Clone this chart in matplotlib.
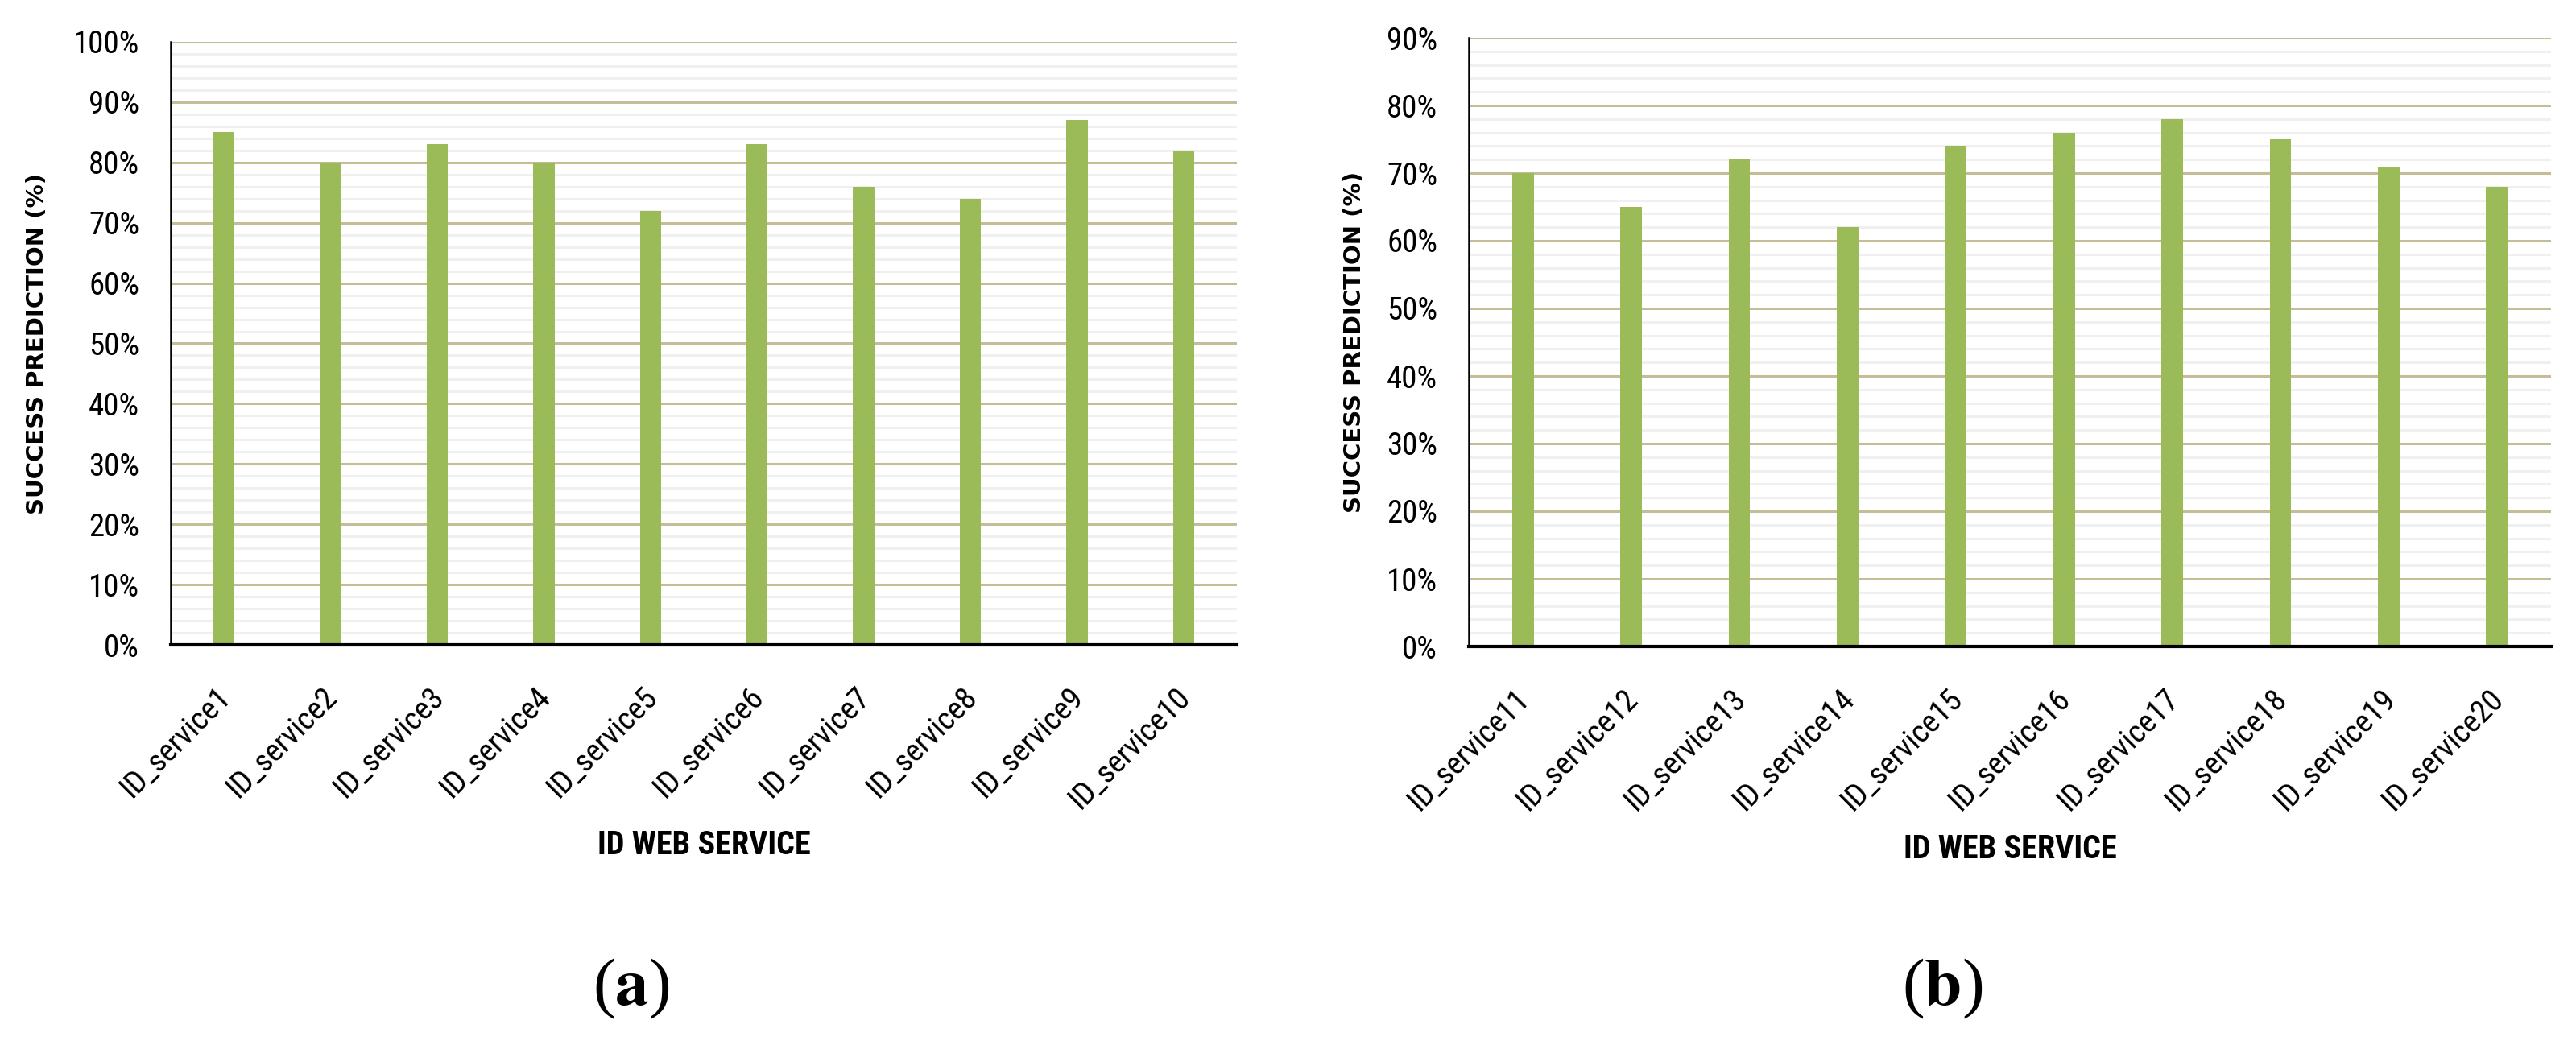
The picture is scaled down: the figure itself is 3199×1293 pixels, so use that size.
import numpy as np
import matplotlib
matplotlib.use('Agg')
import matplotlib.pyplot as plt
import matplotlib.transforms as mtransforms
from matplotlib import font_manager
from matplotlib.ticker import MultipleLocator, PercentFormatter

# data
services_a = ['ID_service1', 'ID_service2', 'ID_service3', 'ID_service4', 'ID_service5',
              'ID_service6', 'ID_service7', 'ID_service8', 'ID_service9', 'ID_service10']
success_a = [0.85, 0.80, 0.83, 0.80, 0.72, 0.83, 0.76, 0.74, 0.87, 0.82]

services_b = ['ID_service11', 'ID_service12', 'ID_service13', 'ID_service14', 'ID_service15',
              'ID_service16', 'ID_service17', 'ID_service18', 'ID_service19', 'ID_service20']
success_b = [0.70, 0.65, 0.72, 0.62, 0.74, 0.76, 0.78, 0.75, 0.71, 0.68]

BAR_COLOR = '#9bbb59'
MAJOR_GRID = '#c4bd97'
MINOR_GRID = '#f0f0f0'

# pick a condensed face if one is installed
installed = {f.name for f in font_manager.fontManager.ttflist}
NARROW = []
for name in ['Liberation Sans Narrow', 'DejaVu Sans Condensed', 'Roboto Condensed',
             'Open Sans Condensed', 'Noto Sans Display']:
    if name in installed:
        NARROW.append(name)
NARROW += ['DejaVu Sans']
STRETCH = 'condensed'

W, H = 3199, 1293
fig = plt.figure(figsize=(W / 100, H / 100), dpi=100)


def px_box(x0, x1, ytop, ybot):
    """Axes rectangle in figure fractions from pixel edges."""
    return [x0 / W, 1 - ybot / H, (x1 - x0) / W, (ybot - ytop) / H]


def draw_panel(rect, labels, values, ymax, ylab_x, tag, tag_x):
    ax = fig.add_axes(rect)
    x = np.arange(len(labels))
    ax.bar(x, values, width=0.2, color=BAR_COLOR, zorder=3)
    ax.set_xlim(-0.5, len(labels) - 0.5)
    ax.set_ylim(0, ymax)

    ax.yaxis.set_major_locator(MultipleLocator(0.1))
    ax.yaxis.set_minor_locator(MultipleLocator(0.02))
    ax.yaxis.set_major_formatter(PercentFormatter(1.0, decimals=0))
    ax.grid(True, which='major', axis='y', color=MAJOR_GRID, lw=2.2, zorder=1)
    ax.grid(True, which='minor', axis='y', color=MINOR_GRID, lw=2.2, zorder=0)
    ax.set_axisbelow(True)
    # no gridline along the top of the plot area
    ax.yaxis.get_gridlines()[-1].set_visible(False)

    for s in ['top', 'right']:
        ax.spines[s].set_visible(False)
    ax.spines['left'].set_linewidth(1.8)
    ax.spines['bottom'].set_linewidth(3)
    ax.spines['bottom'].set_zorder(4)

    ax.tick_params(axis='both', which='both', length=0)
    ax.tick_params(axis='y', pad=28)
    ax.tick_params(axis='x', pad=33)
    for t in ax.get_yticklabels():
        t.set_family(NARROW)
        t.set_stretch(STRETCH)
        t.set_fontsize(28)

    ax.set_xticks(x)
    ax.set_xticklabels(labels, rotation=45, ha='right', va='top',
                       family=NARROW, stretch=STRETCH, fontsize=28)
    offset = mtransforms.ScaledTranslation(0.16, 0, fig.dpi_scale_trans)
    for t in ax.get_xticklabels():
        t.set_transform(t.get_transform() + offset)

    ax.set_xlabel('ID WEB SERVICE', family=NARROW, stretch=STRETCH,
                  fontweight='bold', fontsize=29)
    ax.xaxis.set_label_coords(0.5, -0.333)
    ax.xaxis.label.set_va('center')

    ax.set_ylabel('SUCCESS PREDICTION (%)', family='DejaVu Sans', fontweight='bold',
                  fontsize=21)
    ax.yaxis.set_label_coords(ylab_x, 0.5)
    ax.yaxis.label.set_va('center')
    ax.yaxis.label.set_ha('center')

    fig.text(tag_x / W, 1 - 1228 / H, '(' + r'$\mathbf{' + tag + '}$' + ')',
             family='Liberation Serif', math_fontfamily='stix', fontsize=60,
             ha='center', va='center')
    return ax


draw_panel(px_box(212, 1536, 52, 801), services_a, success_a, 1.0, -0.125, 'a', 784)
draw_panel(px_box(1824, 3168, 47, 803), services_b, success_b, 0.9, -0.106, 'b', 2412)

fig.savefig('out.png', dpi=100, facecolor='white')
